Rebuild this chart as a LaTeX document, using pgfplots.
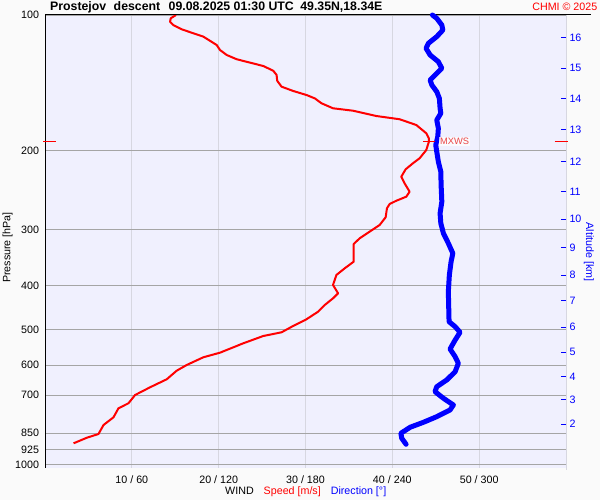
\documentclass[border=0pt]{standalone}
\usepackage{pgfplots}
\pgfplotsset{compat=1.18}
\usepackage{fontspec}
\setmainfont{Liberation Sans}
\definecolor{plotbg}{RGB}{240,240,254}
\definecolor{outbg}{RGB}{250,250,250}
\definecolor{hgrid}{RGB}{165,165,165}
\definecolor{vgrid}{RGB}{215,215,225}
\definecolor{mxws}{RGB}{235,70,70}
\newcommand\lf{\fontsize{10.7}{12}\selectfont}
\begin{document}
\begin{tikzpicture}[x=1pt,y=1pt]
\fill[outbg] (0,0) rectangle (600,500);
\begin{axis}[at={(45pt,32pt)}, anchor=south west, scale only axis,
  width=521pt, height=453pt,
  xmin=0, xmax=60, ymode=log, y dir=reverse, ymin=100, ymax=1016,
  axis background/.style={fill=plotbg},
  axis line style={draw=none},
  xtick={10,20,30,40,50},
  xticklabels={10 / 60, 20 / 120, 30 / 180, 40 / 240, 50 / 300},
  ytick={100,200,300,400,500,600,700,850,925,1000},
  yticklabels={100,200,300,400,500,600,700,850,925,1000},
  xmajorgrids, ymajorgrids,
  x grid style={vgrid, line width=1pt},
  y grid style={hgrid, line width=1pt},
  major tick length=0pt, tick style={draw=none},
  ticklabel style={font=\lf},
  xticklabel style={yshift=-4.5pt},
  yticklabel style={xshift=-2.5pt},
  clip=false]
\addplot[red, line width=2pt, line join=round] coordinates {
(15.09,100) (14.48,101.7) (14.40,103.5) (14.78,105.3) (15.75,107.6) (17.08,109.8)
(18.23,111.7) (19.00,114.1) (19.77,116.6) (20.15,119.6) (20.92,122.7) (22.07,125.4)
(23.60,127.6) (25.13,129.8) (26.28,133.0) (26.67,135.9) (26.74,140.0) (27.24,144.3)
(28.57,147.5) (30.11,150.6) (31.07,153.2) (31.84,157.1) (33.17,161.2) (35.47,163.2)
(38.16,167.7) (40.84,170.5) (42.76,175.6) (43.91,183.2) (44.21,188.0) (44.21,191.2)
(43.91,199.6) (43.14,208.2) (42.37,213.6) (41.53,220.3) (41.03,228.8) (41.41,236.6)
(41.99,247.0) (41.61,253.4) (40.46,258.7) (39.69,263.1) (39.38,268.9) (39.23,281.6)
(38.54,292.9) (37.39,303.1) (36.24,313.6) (35.55,322.8) (35.55,353.4) (34.52,365.6)
(33.56,378.3) (33.17,398.2) (33.75,415.5) (33.17,426.3) (32.22,441.1) (31.45,456.5)
(30.11,474.6) (28.57,491.2) (27.24,507.3) (25.13,517.0) (22.83,536.7) (20.15,563.1)
(18.23,576.5) (16.32,599.7) (15.17,617.4) (14.02,645.2) (12.10,672.2) (10.38,699.2)
(9.61,729.5) (8.46,748.5) (7.89,783.8) (6.74,815.3) (6.16,853.7) (4.83,870.0) (3.29,895.3)
};
\end{axis}
\draw[vgrid, line width=1pt] (566,30) -- (566,485);
\draw[black, line width=1pt] (45,32) -- (45,485.5);
\draw[black, line width=1pt] (45,485) -- (591,485);
\begin{axis}[at={(45pt,32pt)}, anchor=south west, scale only axis,
  width=521pt, height=453pt,
  xmin=0, xmax=360, ymode=log, y dir=reverse, ymin=100, ymax=1016,
  axis line style={draw=none},
  xtick=\empty,
  ytick={112.1,131.4,153.5,180.1,211.9,247.0,284.5,329.0,378.4,431.5,494.5,562.0,636.7,717.3,811.1},
  yticklabels={16,15,14,13,12,11,10,9,8,7,6,5,4,3,2},
  ytick pos=right, yticklabel pos=right, tick align=inside,
  major tick length=5pt, ytick style={blue, line width=1pt},
  yticklabel style={text=blue, font=\lf},
  minor tick num=0, clip=false]
\addplot[blue, line width=5pt, line cap=round, line join=round] coordinates {
(267.7,100) (270.7,101.7) (274.2,105.3) (274.9,108.0) (270.7,111.7) (264.9,115.6)
(263.3,118.6) (266.1,122.7) (271.8,127.0) (274.2,131.4) (270.7,134.8) (266.1,139.5)
(267.3,143.1) (270.7,148.1) (272.5,153.2) (273.0,161.2) (273.5,165.4) (270.7,171.2)
(271.8,178.6) (271.4,186.4) (270.0,194.5) (270.7,201.3) (271.8,211.9) (273.5,223.0)
(273.7,238.7) (274.2,260.0) (273.0,275.9) (273.5,290.4) (275.3,305.6) (278.7,321.7)
(281.8,338.6) (280.6,353.4) (279.4,378.3) (278.7,412.1) (279.2,480.5) (283.4,492.9)
(286.8,507.3) (283.4,527.7) (279.9,552.5) (283.4,574.7) (285.6,594.5) (283.4,620.6)
(277.6,647.5) (270.7,670.1) (269.5,687.4) (275.3,711.1) (282.2,735.9) (279.9,755.0)
(270.7,781.3) (261.5,804.0) (252.3,824.8) (245.9,850.5) (246.5,872.6) (249.5,899.9)
};
\end{axis}
\begin{axis}[at={(45pt,32pt)}, anchor=south west, scale only axis,
  width=521pt, height=453pt,
  xmin=0, xmax=60, ymode=log, y dir=reverse, ymin=100, ymax=1016,
  hide axis, clip=false]
\addplot[red, only marks, mark=+, mark size=6pt, mark options={line width=1pt, yscale=0.55}] coordinates {(44.21,191.2)};
\node[anchor=west, fill=white, fill opacity=0.7, text opacity=1, text=mxws, inner sep=1pt,
  font=\fontsize{9.3}{10}\selectfont, xshift=10pt] at (axis cs:44.21,191.2) {MXWS};
\draw[red, line width=1pt] (axis cs:-0.2,191.2) -- (axis cs:1.3,191.2);
\draw[red, line width=1pt] (axis cs:58.7,191.2) -- (axis cs:60.2,191.2);
\end{axis}
\node[anchor=west, inner sep=0, font=\bfseries\fontsize{12.3}{14}\selectfont] at (50,493)
  {Prostejov\hspace*{7.5pt}descent\hspace*{8.5pt}09.08.2025 01:30 UTC\hspace*{6.5pt}49.35N,18.34E};
\node[anchor=east, inner sep=0, text=red, font=\lf] at (597.5,493) {CHMI © 2025};
\node[anchor=west, inner sep=0, font=\lf] at (225,8.2)
  {WIND\hspace*{10pt}\textcolor{red}{Speed [m/s]}\hspace*{10pt}\textcolor{blue}{Direction [°]}};
\node[rotate=90, inner sep=0, font=\lf] at (7.5,252.5) {Pressure [hPa]};
\node[rotate=-90, inner sep=0, text=blue, font=\lf] at (589,248) {Altitude [km]};
\pgfresetboundingbox
\useasboundingbox (0,0) rectangle (600,500);
\end{tikzpicture}
\end{document}
